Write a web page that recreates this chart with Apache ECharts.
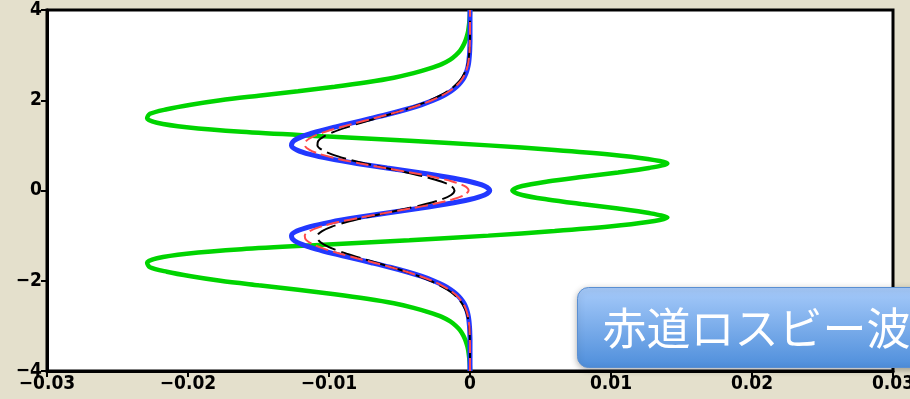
<!DOCTYPE html>
<html>
<head>
<meta charset="utf-8">
<script src="https://cdn.jsdelivr.net/npm/echarts@6/dist/echarts.min.js"></script>
<style>
  html, body { margin: 0; padding: 0; background: #e4e0cc; }
  #chart { width: 910px; height: 399px; }
</style>
</head>
<body>
<div id="chart"></div>
<script>
// Meridional levels (vertical axis), -4 .. 4 in steps of 0.1
const yLevels = [-4,-3.9,-3.8,-3.7,-3.6,-3.5,-3.4,-3.3,-3.2,-3.1,-3,-2.9,-2.8,-2.7,-2.6,-2.5,-2.4,-2.3,-2.2,-2.1,-2,-1.9,-1.8,-1.7,-1.6,-1.5,-1.4,-1.3,-1.2,-1.1,-1,-0.9,-0.8,-0.7,-0.6,-0.5,-0.4,-0.3,-0.2,-0.1,0,0.1,0.2,0.3,0.4,0.5,0.6,0.7,0.8,0.9,1,1.1,1.2,1.3,1.4,1.5,1.6,1.7,1.8,1.9,2,2.1,2.2,2.3,2.4,2.5,2.6,2.7,2.8,2.9,3,3.1,3.2,3.3,3.4,3.5,3.6,3.7,3.8,3.9,4];

// Profile amplitudes at each level
const greenX = [0,-0.00001,-0.00003,-0.00006,-0.0001,-0.00015,-0.00024,-0.00035,-0.0005,-0.0007,-0.001,-0.0014,-0.002,-0.0029,-0.004,-0.0054,-0.0073,-0.0096,-0.0122,-0.015,-0.0177,-0.0198,-0.0215,-0.0227,-0.0229,-0.0222,-0.0201,-0.0162,-0.0104,-0.0043,0.0013,0.006,0.0099,0.0126,0.014,0.0127,0.0105,0.0079,0.0055,0.0037,
  0.003,
  0.0037,0.0055,0.0079,0.0105,0.0127,0.014,0.0126,0.0099,0.006,0.0013,-0.0043,-0.0104,-0.0162,-0.0201,-0.0222,-0.0229,-0.0227,-0.0215,-0.0198,-0.0177,-0.015,-0.0122,-0.0096,-0.0073,-0.0054,-0.004,-0.0029,-0.002,-0.0014,-0.001,-0.0007,-0.0005,-0.00035,-0.00024,-0.00015,-0.0001,-0.00006,-0.00003,-0.00001,0];

const blueX = [0,0,0,0,0,0,0,0,-0.00001,-0.00002,-0.00004,-0.00007,-0.00011,-0.00018,-0.00028,-0.00043,-0.00065,-0.00095,-0.00136,-0.0019,-0.0026,-0.00346,-0.00449,-0.00567,-0.00698,-0.00834,-0.00969,-0.01091,-0.01188,-0.0125,-0.01266,-0.01228,-0.01134,-0.00989,-0.00802,-0.00588,-0.00369,-0.00167,-0.00003,0.00103,
  0.0014,
  0.00103,-0.00003,-0.00167,-0.00369,-0.00588,-0.00802,-0.00989,-0.01134,-0.01228,-0.01266,-0.0125,-0.01188,-0.01091,-0.00969,-0.00834,-0.00698,-0.00567,-0.00449,-0.00346,-0.0026,-0.0019,-0.00136,-0.00095,-0.00065,-0.00043,-0.00028,-0.00018,-0.00011,-0.00007,-0.00004,-0.00002,-0.00001,0,0,0,0,0,0,0,0];

const blackX = [0,0,0,0,0,0,0,-0.00001,-0.00002,-0.00004,-0.00007,-0.00011,-0.00017,-0.00026,-0.0004,-0.00058,-0.00083,-0.00116,-0.0016,-0.00215,-0.00282,-0.00362,-0.00453,-0.00555,-0.00663,-0.00772,-0.00875,-0.00966,-0.01035,-0.01076,-0.01082,-0.01049,-0.00979,-0.00875,-0.00744,-0.00597,-0.00449,-0.00313,-0.00204,-0.00134,
  -0.0011,
  -0.00134,-0.00204,-0.00313,-0.00449,-0.00597,-0.00744,-0.00875,-0.00979,-0.01049,-0.01082,-0.01076,-0.01035,-0.00966,-0.00875,-0.00772,-0.00663,-0.00555,-0.00453,-0.00362,-0.00282,-0.00215,-0.0016,-0.00116,-0.00083,-0.00058,-0.0004,-0.00026,-0.00017,-0.00011,-0.00007,-0.00004,-0.00002,-0.00001,0,0,0,0,0,0,0];

const redX = [0,0,0,0,0,0,0,-0.00001,-0.00002,-0.00003,-0.00005,-0.00009,-0.00014,-0.00022,-0.00033,-0.0005,-0.00073,-0.00105,-0.00147,-0.00202,-0.0027,-0.00354,-0.00451,-0.00561,-0.0068,-0.00803,-0.00921,-0.01027,-0.0111,-0.01161,-0.01172,-0.01138,-0.01058,-0.00935,-0.00779,-0.00603,-0.00424,-0.00259,-0.00126,-0.0004,
  -0.0001,
  -0.0004,-0.00126,-0.00259,-0.00424,-0.00603,-0.00779,-0.00935,-0.01058,-0.01138,-0.01172,-0.01161,-0.0111,-0.01027,-0.00921,-0.00803,-0.0068,-0.00561,-0.00451,-0.00354,-0.0027,-0.00202,-0.00147,-0.00105,-0.00073,-0.0005,-0.00033,-0.00022,-0.00014,-0.00009,-0.00005,-0.00003,-0.00002,-0.00001,0,0,0,0,0,0,0];

// Axis ranges and the caption on the panel
const xRange = [-0.03, 0.03];
const xStep = 0.01;
const yRange = [-4, 4];
const yStep = 2;
const caption = '赤道ロスビー波';

const toPairs = xs => yLevels.map((y, i) => [xs[i], y]);
const minus = v => String(v).replace('-', '\u2212');
const tickFont = {
  color: '#000',
  fontSize: 19,
  fontWeight: 'bold',
  fontFamily: "'Liberation Sans Narrow', 'DejaVu Sans Condensed', 'Liberation Sans', sans-serif"
};

const chart = echarts.init(document.getElementById('chart'), null, { renderer: 'canvas' });

const lineSeries = (name, xs, color, width, type, z) => ({
  name,
  type: 'line',
  data: toPairs(xs),
  showSymbol: false,
  symbol: 'none',
  smooth: 0.3,
  clip: true,
  z,
  lineStyle: { color, width, type, cap: 'butt' },
  animation: false
});

chart.setOption({
  backgroundColor: '#e4e0cc',
  animation: false,
  grid: {
    left: 47, right: 17, top: 10, bottom: 28,
    outerBoundsMode: 'none',
    containLabel: false,
    show: true,
    backgroundColor: '#ffffff',
    borderColor: '#000',
    borderWidth: 3
  },
  xAxis: {
    type: 'value',
    min: xRange[0], max: xRange[1], interval: xStep,
    splitLine: { show: false },
    axisLine: { show: true, onZero: false, lineStyle: { color: '#000', width: 3 } },
    axisTick: { show: true, length: 6, lineStyle: { color: '#000', width: 2 } },
    axisLabel: Object.assign({ margin: 4, formatter: v => minus(+v.toFixed(2)) }, tickFont)
  },
  yAxis: {
    type: 'value',
    min: yRange[0], max: yRange[1], interval: yStep,
    splitLine: { show: false },
    axisLine: { show: true, onZero: false, lineStyle: { color: '#000', width: 3 } },
    axisTick: { show: true, length: 6, lineStyle: { color: '#000', width: 2 } },
    axisLabel: Object.assign({ margin: 5, formatter: v => minus(v) }, tickFont)
  },
  series: [
    lineSeries('green', greenX, '#00d400', 4.5, 'solid', 2),
    lineSeries('blue', blueX, '#2238ff', 5, 'solid', 3),
    lineSeries('black', blackX, '#000000', 2, [20, 6], 4),
    lineSeries('red', redX, '#ff4a4a', 2, [13, 5], 5)
  ],
  graphic: [
    {
      type: 'group',
      left: 577,
      top: 287,
      z: 100,
      children: [
        {
          type: 'rect',
          shape: { x: 0, y: 0, width: 360, height: 80, r: 11 },
          style: {
            fill: new echarts.graphic.LinearGradient(0, 0, 0, 1, [
              { offset: 0, color: '#a7cbfa' },
              { offset: 1, color: '#4e8edb' }
            ]),
            stroke: '#5a8fd2',
            lineWidth: 1,
            shadowBlur: 6,
            shadowOffsetY: 2,
            shadowColor: 'rgba(0,0,0,0.3)'
          }
        },
        {
          type: 'text',
          x: 25,
          y: 41,
          style: {
            text: caption,
            fill: '#ffffff',
            fontSize: 44,
            fontFamily: "'Noto Sans CJK JP', 'Noto Sans CJK SC', sans-serif",
            verticalAlign: 'middle',
            align: 'left'
          }
        }
      ]
    }
  ]
});
</script>
</body>
</html>
